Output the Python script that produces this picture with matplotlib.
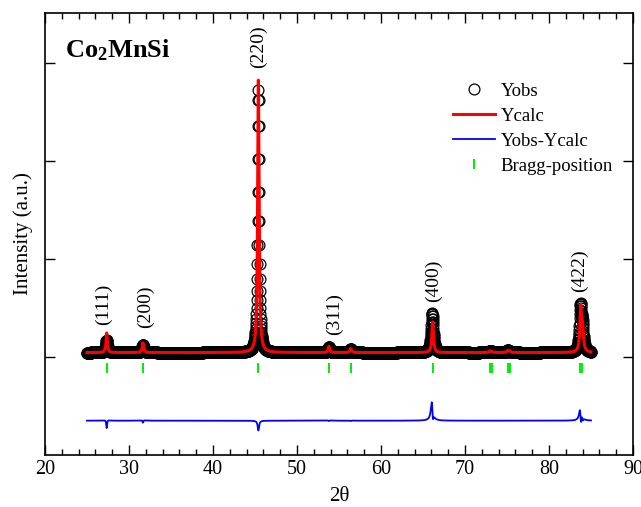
import numpy as np
import matplotlib.pyplot as plt

plt.rcParams['font.family'] = 'Liberation Serif'
plt.rcParams['mathtext.fontset'] = 'custom'
plt.rcParams['mathtext.rm'] = 'Liberation Serif'
plt.rcParams['mathtext.bf'] = 'Liberation Serif:bold'

# ------------------------------------------------------------
# refinement data (2theta in degrees, intensity in counts)
# ------------------------------------------------------------
two_theta = np.arange(25.0, 85.01, 0.02)
background = 45.0

# calculated reflections
calc_pos = [27.34, 31.66, 45.40, 53.80, 56.40, 66.15, 72.95, 73.15, 75.10, 75.30, 83.78, 84.00]
calc_height = [200, 100, 2780, 62, 40, 315, 15, 10, 20, 12, 440, 220]
calc_fwhm = [0.18, 0.20, 0.20, 0.22, 0.22, 0.22, 0.25, 0.25, 0.25, 0.25, 0.24, 0.24]

# observed reflections
obs_pos = [27.34, 31.66, 45.40, 53.80, 56.40, 66.10, 72.95, 73.15, 75.10, 75.30, 83.75, 83.98]
obs_height = [125, 80, 2680, 58, 36, 400, 15, 10, 20, 12, 440, 230]
obs_fwhm = [0.25, 0.25, 0.20, 0.25, 0.25, 0.30, 0.25, 0.25, 0.25, 0.25, 0.28, 0.28]

bragg_pos = [27.34, 31.66, 45.40, 53.80, 56.40, 66.15, 72.95, 73.18, 75.10, 75.32, 83.73, 83.97]
bragg_level = -112
diff_offset = -650

hkl_labels = ["(111)", "(200)", "(220)", "(311)", "(400)", "(422)"]
hkl_x = [27.0, 32.0, 45.36, 54.5, 66.2, 83.6]
hkl_y = [327, 296, 2949, 224, 561, 663]


def profile(x, pos, height, fwhm):
    y = np.full_like(x, background)
    for p, h, w in zip(pos, height, fwhm):
        y += h / (1.0 + ((x - p) / (w / 2.0)) ** 2)
    return y


y_calc = profile(two_theta, calc_pos, calc_height, calc_fwhm)
y_obs = profile(two_theta, obs_pos, obs_height, obs_fwhm)
y_diff = y_obs - y_calc + diff_offset

# ------------------------------------------------------------
# plot
# ------------------------------------------------------------
fig = plt.figure(figsize=(6.41, 5.07), dpi=100)
ax = fig.add_axes([0.0702, 0.1026, 0.9173, 0.8718])

ax.plot(two_theta, y_obs, 'o', mfc='none', mec='black', ms=7.8, mew=0.9,
        label='Yobs', zorder=2)
ax.plot(two_theta, y_calc, color='#ff0000', lw=2.2, label='Ycalc', zorder=3)
ax.plot(two_theta, y_diff, color='#0000ff', lw=1.3, label='Yobs-Ycalc', zorder=3)
ax.plot(bragg_pos, [bragg_level] * len(bragg_pos), '|', color='#00ee00',
        ms=7.5, mew=1.4, label='Bragg-position', zorder=3)

for lab, x, y in zip(hkl_labels, hkl_x, hkl_y):
    ax.text(x, y, lab, rotation=90, ha='center', va='bottom', fontsize=14)

ax.text(0.034, 0.90, r'$\mathbf{Co_2MnSi}$', transform=ax.transAxes,
        fontsize=19, va='baseline', ha='left')

ax.set_xlim(20, 90)
ax.set_ylim(-1000, 3510)
ax.set_xticks(np.arange(20, 91, 10))
ax.set_xticks(np.arange(20, 91, 2), minor=True)
ax.set_yticks([0, 1000, 2000, 3000])
ax.set_yticklabels([])

ax.tick_params(which='both', direction='in', top=True, right=True, width=1.0,
               labelsize=14.5)
ax.tick_params(which='major', length=7)
ax.tick_params(which='minor', length=4)
for s in ax.spines.values():
    s.set_linewidth(1.2)

ax.set_xlabel('2θ', fontsize=15, labelpad=6)
ax.set_ylabel('Intensity (a.u.)', fontsize=15, labelpad=5)

ax.legend(loc='upper left', bbox_to_anchor=(0.694, 0.842), frameon=False,
          fontsize=13.5, handlelength=2.24, handletextpad=0.3,
          labelspacing=0.42, borderpad=0, borderaxespad=0)

plt.savefig('out.png', dpi=100)
